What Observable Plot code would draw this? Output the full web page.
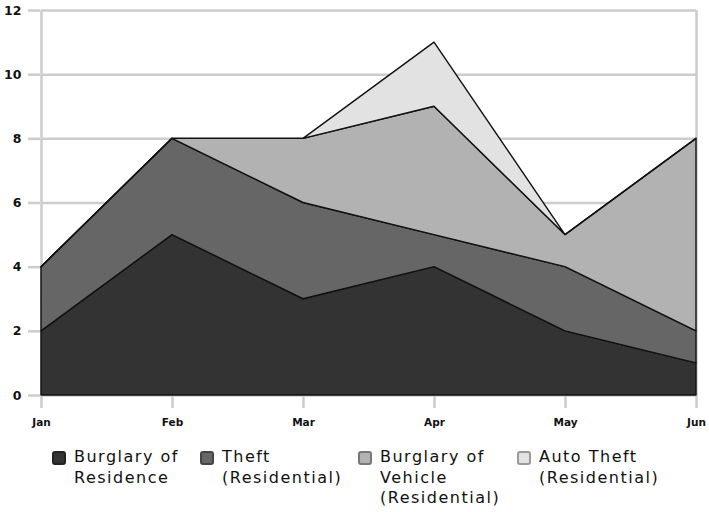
<!DOCTYPE html>
<html>
<head>
<meta charset="utf-8">
<script src="https://cdn.jsdelivr.net/npm/d3@7"></script>
<script src="https://cdn.jsdelivr.net/npm/@observablehq/plot@0.6"></script>
<style>
  body { margin: 0; background: #fff; font-family: "DejaVu Sans", sans-serif; }
  #wrap { position: relative; width: 709px; height: 512px; overflow: hidden; }
  #legend { position: absolute; left: 0; top: 447px; width: 709px; }
  .item { position: absolute; top: 0; }
  .sw { position: absolute; top: 4px; width: 14px; height: 14px; border-radius: 3px; box-sizing: border-box; border: 2px solid #555; }
  .lab { position: absolute; top: 0px; left: 22px; font-size: 16px; line-height: 20.5px; color: #111; letter-spacing: 1.5px; white-space: nowrap; }
</style>
</head>
<body>
<div id="wrap">
  <div id="chart"></div>
  <div id="legend"></div>
</div>
<script>
const months = ["Jan", "Feb", "Mar", "Apr", "May", "Jun"];
const seriesNames = ["Burglary of Residence", "Theft (Residential)", "Burglary of Vehicle (Residential)", "Auto Theft (Residential)"];
const legendLines = [["Burglary of", "Residence"], ["Theft", "(Residential)"], ["Burglary of", "Vehicle", "(Residential)"], ["Auto Theft", "(Residential)"]];
const burglaryResidence = [2, 5, 3, 4, 2, 1];
const theftResidential = [2, 3, 3, 1, 2, 1];
const burglaryVehicle = [0, 0, 2, 4, 1, 6];
const autoTheft = [0, 0, 0, 2, 0, 0];
const yTicks = [0, 2, 4, 6, 8, 10, 12];
const colors = ["#333333", "#666666", "#b2b2b2", "#e2e2e2"];
const swatchBorders = ["#222", "#444", "#777", "#999"];

const seriesValues = [burglaryResidence, theftResidential, burglaryVehicle, autoTheft];
const data = [];
seriesNames.forEach((s, si) => months.forEach((m, mi) => data.push({month: m, series: s, value: seriesValues[si][mi]})));

const chart = Plot.plot({
  width: 709,
  height: 436,
  marginLeft: 40,
  marginRight: 12,
  marginTop: 10,
  marginBottom: 41,
  style: {fontFamily: "DejaVu Sans, sans-serif", background: "#fff"},
  x: {type: "point", domain: months, padding: 0, label: null},
  y: {domain: [0, 12], label: null},
  color: {domain: seriesNames, range: colors},
  marks: [
    Plot.ruleY(yTicks, {y: d => d, x1: () => months[0], x2: () => months[5], stroke: "#cccccc", strokeWidth: 2.5}),
    Plot.ruleX([months[0], months[5]], {x: d => d, y1: 0, y2: 12, stroke: "#cccccc", strokeWidth: 2.5}),
    Plot.axisY({ticks: yTicks, tickSize: 12, tickPadding: 7, stroke: "#cccccc", strokeWidth: 2.5, fill: "#111", fontSize: 12.5, fontWeight: "bold", tickFormat: d => d}),
    Plot.axisX({tickSize: 13, tickPadding: 10, stroke: "#cccccc", strokeWidth: 2.5, fill: "#111", fontSize: 10.5, fontWeight: "bold"}),
    Plot.areaY(data, Plot.stackY({x: "month", y: "value", z: "series", fill: "series", order: seriesNames, stroke: "#111", strokeWidth: 1.4, strokeLinejoin: "round"}))
  ]
});
document.getElementById("chart").appendChild(chart);

const legend = document.getElementById("legend");
const lefts = [52, 200, 358, 517];
legendLines.forEach((lines, i) => {
  const item = document.createElement("div");
  item.className = "item";
  item.style.left = lefts[i] + "px";
  const sw = document.createElement("div");
  sw.className = "sw";
  sw.style.background = colors[i];
  sw.style.borderColor = swatchBorders[i];
  const lab = document.createElement("div");
  lab.className = "lab";
  lab.innerHTML = lines.join("<br>");
  item.appendChild(sw);
  item.appendChild(lab);
  legend.appendChild(item);
});
</script>
</body>
</html>
